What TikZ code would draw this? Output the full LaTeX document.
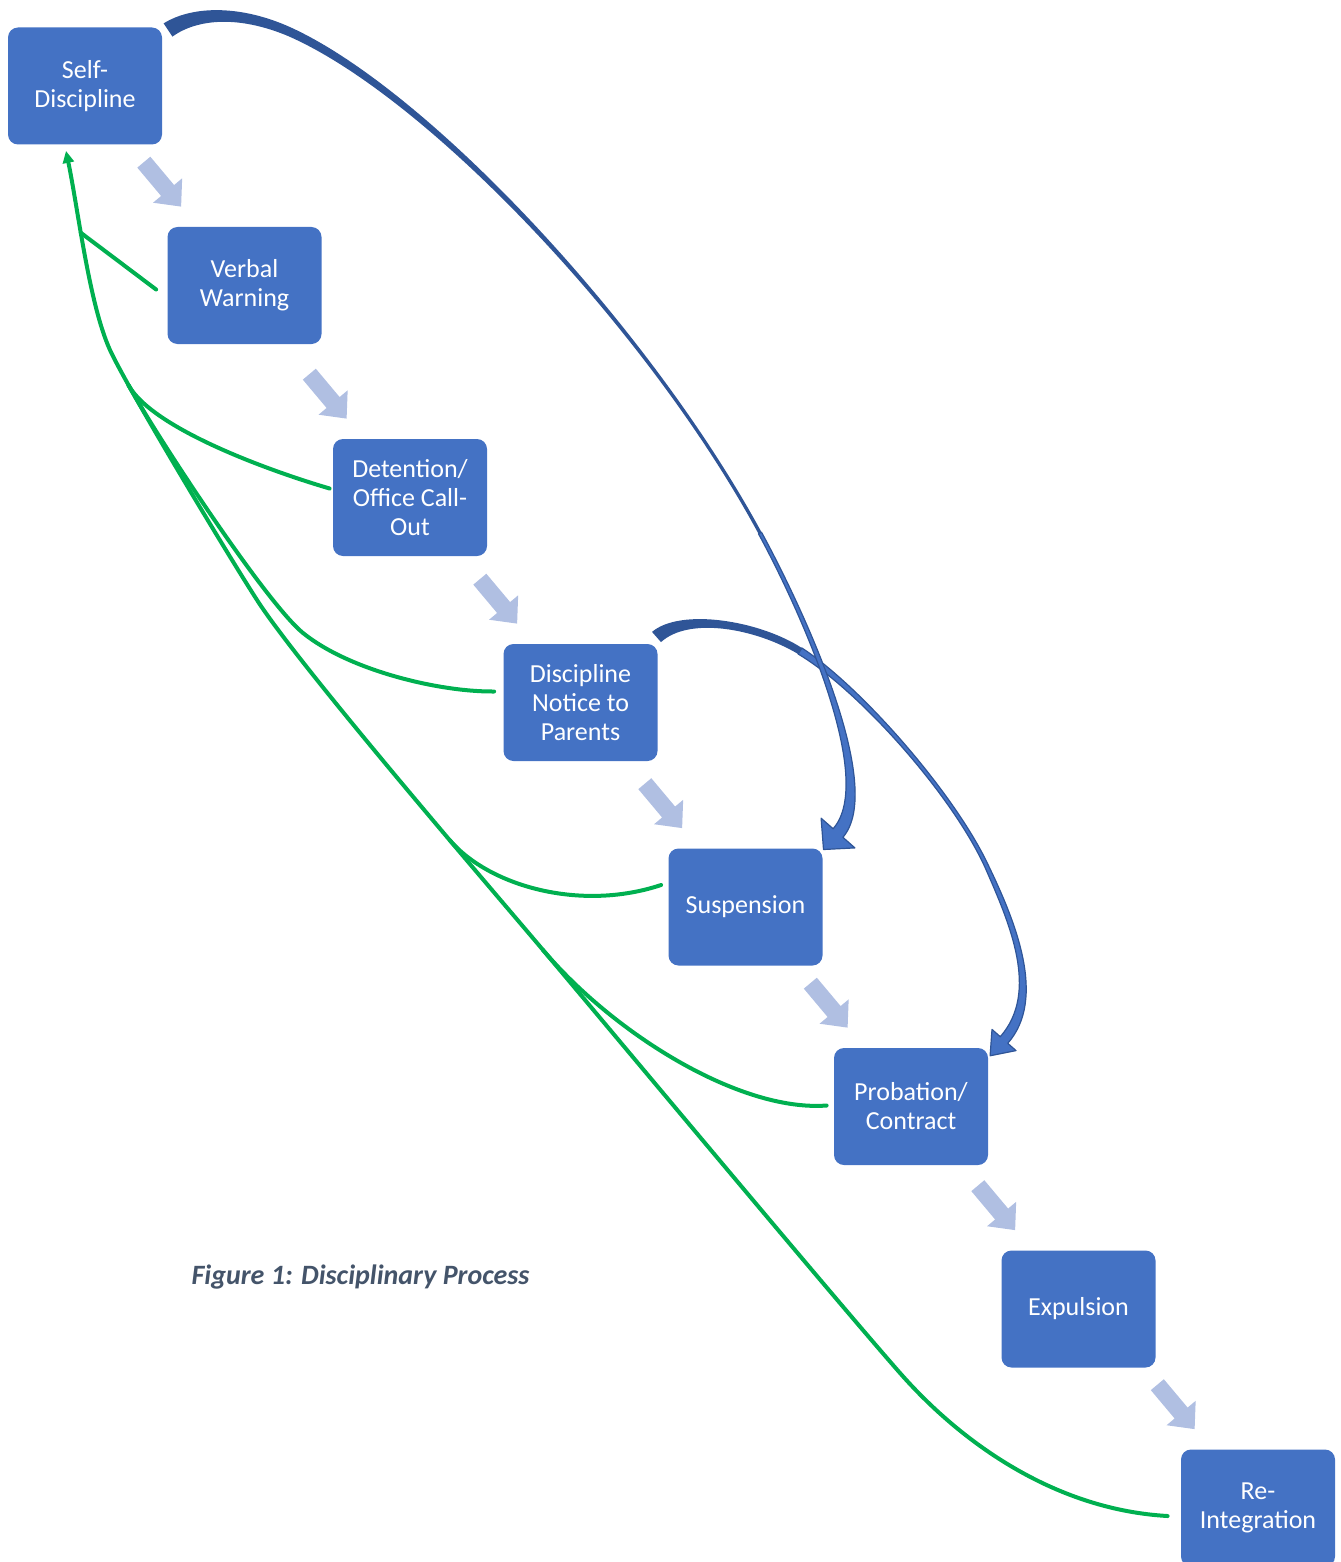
\documentclass[tikz,border=0pt]{standalone}
\usepackage{fontspec}
\setmainfont{Carlito}
\usetikzlibrary{arrows.meta}
\definecolor{boxblue}{RGB}{68,114,196}
\definecolor{darkblue}{RGB}{47,85,151}
\definecolor{paleblue}{RGB}{176,191,226}
\definecolor{fbgreen}{RGB}{0,176,80}
\definecolor{capgray}{RGB}{68,84,106}
\newcommand\flowarrow[1]{\fill[paleblue, shift={(#1.north west)}, shift={(14,-20)}, rotate=-50]
    (0,0) -- (-21,19) -- (-21,8.5) -- (-58,8.5) -- (-58,-8.5) -- (-21,-8.5) -- (-21,-19) -- cycle;}
\def\backband{\fill[darkblue]}
\def\frontband{\filldraw[fill=boxblue, draw=darkblue, line width=0.6pt, line join=round]}

\begin{document}
\begin{tikzpicture}[x=0.5pt, y=-0.5pt,
        stage/.style={rectangle, rounded corners=5pt, fill=boxblue, text=white, inner sep=0pt,
            minimum width=77pt, minimum height=58.5pt, align=center, font=\fontsize{13}{14.5}\selectfont},
        fb/.style={fbgreen, line width=2pt, line cap=round},
        caption/.style={text=capgray, font=\fontsize{14}{16}\selectfont\bfseries\itshape}]
            \useasboundingbox (0,0) rectangle (1340,1562);
            \node[stage] (sd)    at (85,86)      {Self-\\Discipline};
            \node[stage] (vw)    at (244.5,285.5) {Verbal\\Warning};
            \node[stage] (det)   at (410,497.5)  {Detention/\\Office Call-\\Out};
            \node[stage] (dnp)   at (580.5,702.5) {Discipline\\Notice to\\Parents};
            \node[stage] (sus)   at (745.5,907)  {Suspension};
            \node[stage] (prob)  at (911,1106.5) {Probation/\\Contract};
            \node[stage] (exp)   at (1078.5,1309) {Expulsion};
            \node[stage] (reint) at (1258,1508)  {Re-\\Integration};
            \node[caption] (cap) at (360.5,1277) {Figure 1: Disciplinary Process};

            \flowarrow{vw}
            \flowarrow{det}
            \flowarrow{dnp}
            \flowarrow{sus}
            \flowarrow{prob}
            \flowarrow{exp}
            \flowarrow{reint}

            \coordinate (t1) at (900,1373);
            \coordinate (j6) at (543,950);
            \coordinate (j5) at (449.8,840.2);
            \coordinate (t3) at (257,600);
            \coordinate (j4) at (128.5,385.2);
            \coordinate (j2) at (110,350);
            \coordinate (j1) at (80.7,232.7);
            \draw[fb, -{Triangle[length=6pt,width=5.5pt]}] ([shift={(-13,8)}]reint.west)
                .. controls (1060,1510) and (966,1448) .. (t1)
                .. controls (834,1298) and (607.5,1026.4) .. (j6)
                .. controls (491.4,888.9) and (300,667) .. (t3)
                .. controls (224.6,549.6) and (126.6,386.4) .. (j2)
                .. controls (89.25,304.5) and (78,208.8) .. ([shift={(-19,6)}]sd.south);
            \draw[fb] ([shift={(-11,4)}]vw.west) -- (j1);
            \draw[fb] ([shift={(-3,-9)}]det.west) .. controls (270,471) and (152.9,428.9) .. (j4);
            \draw[fb] ([shift={(-9,-11)}]dnp.west) .. controls (440,692) and (349.8,670.8) .. (303,633)
                .. controls (267.9,604.6) and (162.7,446.3) .. (j4);
            \draw[fb] ([shift={(-7,-22)}]sus.west) .. controls (580,912) and (488.8,885.8) .. (j5);
            \draw[fb] ([shift={(-7,-1)}]prob.west) .. controls (740,1112) and (614,1034) .. (j6);

            \backband (652,631.9) .. controls (681,607.5) and (759.9,620.7) .. (801.9,648)
                -- (798.1,654) .. controls (755.1,628.3) and (689,616.5) .. (661,642.1) -- cycle;
            \frontband (801.9,648) .. controls (860.6,686.3) and (954.9,793.4) .. (988.8,866.2)
                .. controls (1014.7,920.2) and (1047.4,998.3) .. (1007.75,1043.3)
                -- (1016,1050.6) -- (990.1,1055.75) -- (992,1029.4) -- (1000.25,1036.7)
                .. controls (1039.9,991.7) and (1009.3,922.8) .. (985.2,867.8)
                .. controls (952.1,794.6) and (858.4,689.7) .. (798.1,654) -- cycle;

            \backband (163.6,23.4) .. controls (192.5,5.4) and (241.1,4.6) .. (291.8,27.9)
                .. controls (431.2,92.3) and (651.3,329.3) .. (761.5,532.2)
                -- (758.5,533.8) .. controls (648.7,330.7) and (428.8,97.7) .. (288.2,36.1)
                .. controls (238.9,15.4) and (197.5,18.6) .. (172.4,36.6) -- cycle;
            \frontband (761.5,532.2) .. controls (806.5,615) and (885.5,788) .. (842.9,837.3)
                -- (854.9,847.9) -- (823.5,849.5) -- (821.1,818.2) -- (833.1,828.7)
                .. controls (876.5,780) and (800.5,611.1) .. (758.5,533.8) -- cycle;
\end{tikzpicture}
\end{document}
